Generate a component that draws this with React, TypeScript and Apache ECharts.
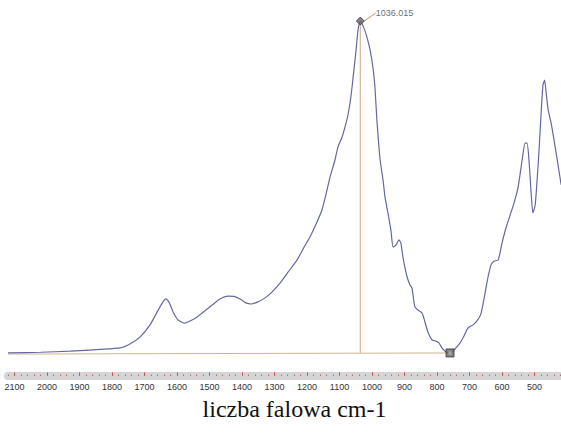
import React, { useEffect, useRef } from "react";
import * as echarts from "echarts";

const wavenumbers = [
  2120, 2020, 1929, 1837, 1775, 1745, 1714, 1683, 1658, 1643, 1634, 1625, 1612, 1597, 1578, 1560,
  1538, 1514, 1492, 1468, 1443, 1425, 1406, 1388, 1372, 1351, 1329, 1308, 1283, 1258, 1231, 1209,
  1191, 1172, 1154, 1142, 1129, 1114, 1105, 1092, 1083, 1074, 1065, 1058, 1049, 1043, 1036, 1025,
  1015, 1006, 997, 991, 985, 975, 966, 960, 951, 942, 935, 926, 917, 911, 905, 892, 883, 877, 868,
  855, 846, 837, 828, 815, 803, 794, 785, 775, 760, 745, 729, 717, 705, 689, 677, 665, 652, 643,
  634, 625, 612, 600, 588, 575, 563, 551, 538, 529, 523, 517, 511, 505, 498, 492, 486, 480, 474,
  469, 465, 458, 449, 440, 431, 418,
];
const absorbance = [
  0.064, 0.066, 0.069, 0.074, 0.078, 0.089, 0.108, 0.142, 0.183, 0.206, 0.214, 0.206, 0.178, 0.156,
  0.147, 0.153, 0.164, 0.181, 0.197, 0.214, 0.222, 0.221, 0.214, 0.203, 0.2, 0.206, 0.217, 0.233,
  0.258, 0.289, 0.322, 0.358, 0.386, 0.422, 0.461, 0.503, 0.553, 0.6, 0.635, 0.664, 0.692, 0.725,
  0.775, 0.831, 0.906, 0.961, 0.986, 0.967, 0.939, 0.906, 0.856, 0.803, 0.711, 0.6, 0.544, 0.497,
  0.453, 0.406, 0.358, 0.364, 0.378, 0.369, 0.331, 0.275, 0.253, 0.244, 0.192, 0.181, 0.175, 0.15,
  0.122, 0.1, 0.097, 0.092, 0.078, 0.069, 0.064, 0.075, 0.092, 0.111, 0.133, 0.142, 0.153, 0.172,
  0.231, 0.275, 0.308, 0.319, 0.322, 0.369, 0.411, 0.447, 0.481, 0.522, 0.6, 0.647, 0.647, 0.6,
  0.517, 0.453, 0.475, 0.544, 0.628, 0.725, 0.808, 0.822, 0.794, 0.739, 0.703, 0.656, 0.606, 0.531,
];
const peakPoint = [1036, 0.986];
const peakLabel = "1036.015";
const minPoint = [760, 0.064];
const baselineStart = [2120, 0.061];
const tickLabels = [2100, 2000, 1900, 1800, 1700, 1600, 1500, 1400, 1300, 1200, 1100, 1000, 900, 800, 700, 600, 500];
const minorTickValues = Array.from({ length: 86 }, (_, i) => 420 + i * 20);
const axisTitle = "liczba falowa cm-1";
const xMin = 418.5;
const xMax = 2120;

export default function App() {
  const ref = useRef<HTMLDivElement>(null);
  useEffect(() => {
    if (!ref.current) return;
    const chart = echarts.init(ref.current, undefined, { renderer: "svg" });
    const curve = wavenumbers.map((w, i) => [w, absorbance[i]]);
    chart.setOption({
      animation: false,
      backgroundColor: "#ffffff",
      grid: { left: 8, right: 0, top: 16, bottom: 58, containLabel: false },
      xAxis: [
        {
          type: "value",
          inverse: true,
          min: xMin,
          max: xMax,
          name: axisTitle,
          nameLocation: "middle",
          nameGap: 21,
          nameTextStyle: {
            fontFamily: "Liberation Serif",
            fontSize: 24,
            color: "#111",
            padding: [0, 0, 0, 20],
          },
          axisLine: { show: true, lineStyle: { color: "#d4d4d4", width: 8 } },
          axisTick: {
            show: true,
            inside: true,
            length: 3.5,
            customValues: tickLabels,
            lineStyle: { color: "#e04040", width: 1 },
          },
          splitLine: { show: false },
          axisLabel: {
            margin: 6,
            fontFamily: "Liberation Sans",
            fontSize: 9,
            color: "#333",
            customValues: tickLabels,
            formatter: (v: number) => String(v),
          },
        },
        {
          type: "value",
          inverse: true,
          min: xMin,
          max: xMax,
          position: "bottom",
          axisLine: { show: false },
          axisTick: {
            show: true,
            inside: true,
            length: 1.5,
            customValues: minorTickValues,
            lineStyle: { color: "#e06060", width: 1 },
          },
          axisLabel: { show: false },
          splitLine: { show: false },
        },
      ],
      yAxis: { type: "value", min: 0, max: 1, show: false },
      series: [
        {
          type: "line",
          data: [baselineStart, minPoint],
          symbol: "none",
          lineStyle: { color: "#d2b592", width: 1 },
          z: 1,
        },
        {
          type: "line",
          data: [peakPoint, [peakPoint[0], minPoint[1]]],
          symbol: "none",
          lineStyle: { color: "#d2b592", width: 1.2 },
          z: 1,
        },
        {
          type: "line",
          data: curve,
          symbol: "none",
          smooth: 0.2,
          lineStyle: { color: "#6468a2", width: 1.2 },
          z: 2,
        },
        {
          type: "scatter",
          data: [peakPoint],
          symbol: "diamond",
          symbolSize: 8,
          itemStyle: { color: "#666", borderColor: "#333", borderWidth: 1 },
          label: {
            show: true,
            formatter: peakLabel,
            position: "right",
            fontFamily: "Liberation Sans",
            fontSize: 9,
            color: "#444",
          },
          labelLayout: { dx: 6, dy: -8 },
          labelLine: { show: true, lineStyle: { color: "#c8906a", width: 1 } },
          z: 3,
        },
        {
          type: "scatter",
          data: [minPoint],
          symbol: "rect",
          symbolSize: 8,
          itemStyle: { color: "#666", borderColor: "#333", borderWidth: 1 },
          z: 3,
        },
        {
          type: "scatter",
          data: [minPoint],
          symbol: "rect",
          symbolSize: 3,
          itemStyle: { color: "#bbb" },
          z: 4,
        },
      ],
    });
    return () => chart.dispose();
  }, []);
  return <div ref={ref} style={{ position: "fixed", left: 0, top: 0, width: 561, height: 434 }} />;
}
